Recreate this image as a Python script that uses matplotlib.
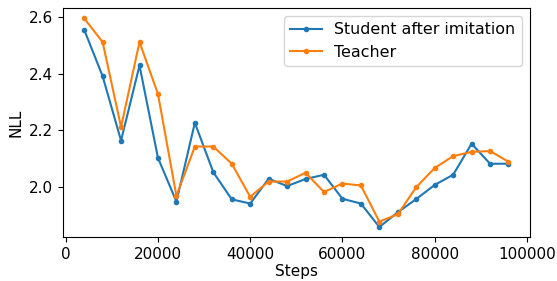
import numpy as np
import matplotlib.pyplot as plt

steps = np.arange(4000, 100000, 4000)

student = [2.556, 2.391, 2.163, 2.429, 2.102, 1.947, 2.226, 2.051, 1.955, 1.940,
           2.028, 2.002, 2.027, 2.042, 1.957, 1.940, 1.857, 1.909, 1.956, 2.006,
           2.042, 2.152, 2.081, 2.081]
teacher = [2.596, 2.512, 2.211, 2.512, 2.328, 1.967, 2.142, 2.142, 2.081, 1.964,
           2.018, 2.018, 2.049, 1.981, 2.011, 2.004, 1.876, 1.902, 1.998, 2.066,
           2.108, 2.123, 2.126, 2.088]

fig = plt.figure(figsize=(5.57, 2.81), dpi=100)
ax = fig.add_axes([0.113, 0.155, 0.838, 0.817])

ax.plot(steps, student, marker='.', markersize=6, label='Student after imitation')
ax.plot(steps, teacher, marker='.', markersize=6, label='Teacher')

ax.set_xlabel('Steps', fontsize=11, labelpad=1.5)
ax.set_ylabel('NLL', fontsize=11)
ax.tick_params(labelsize=11)
ax.legend(fontsize=11.4, loc='upper right')

fig.savefig('out.png', dpi=100)
